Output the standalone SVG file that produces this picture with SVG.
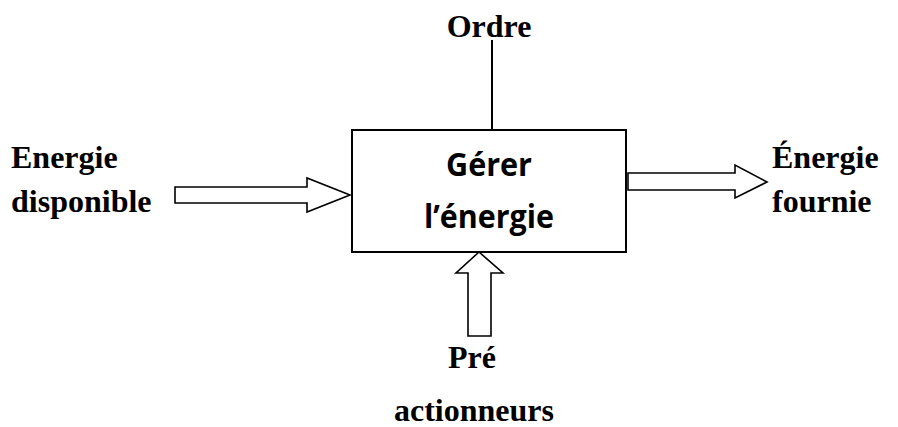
<svg xmlns="http://www.w3.org/2000/svg" width="898" height="427" viewBox="0 0 898 427">
  <style>
    .lbl { font-family: "Liberation Serif", "Times New Roman", serif; font-weight: bold; font-size: 32px; fill: #000; }
    .fn { font-family: "Open Sans", "Liberation Sans", sans-serif; font-weight: bold; font-size: 32px; fill: #000; }
    .box { fill: #fff; stroke: #000; stroke-width: 2; }
    .flow { fill: #fff; stroke: #000; stroke-width: 1.6; stroke-linejoin: miter; }
    .wire { fill: none; stroke: #000; stroke-width: 2; }
  </style>

  <rect width="898" height="427" fill="#fff"/>

  <!-- connectors -->
  <g id="connectors">
    <!-- control input from the top -->
    <line class="wire" x1="492" y1="40" x2="492" y2="130"/>
    <!-- energy in (left) -->
    <polygon class="flow" points="175,187 307,187 307,178 350,195 307,212 307,203 175,203"/>
    <!-- energy out (right) -->
    <polygon class="flow" points="628,173 735,173 735,165 767,182 735,198 735,190 628,190"/>
    <!-- pre-actuators from below -->
    <polygon class="flow" points="479,252 503,273 491,273 491,336 468,336 468,273 456,273"/>
  </g>

  <!-- function block -->
  <g id="node-gerer">
    <rect class="box" x="352" y="130" width="274" height="122"/>
    <text class="fn" x="489" y="176" text-anchor="middle" textLength="86" lengthAdjust="spacingAndGlyphs">Gérer</text>
    <text class="fn" x="489" y="228" text-anchor="middle" textLength="130" lengthAdjust="spacingAndGlyphs">l’énergie</text>
  </g>

  <g id="node-ordre">
    <text class="lbl" x="489" y="37" text-anchor="middle">Ordre</text>
  </g>

  <g id="node-energie-disponible">
    <text class="lbl" x="11" y="168">Energie</text>
    <text class="lbl" x="11" y="212">disponible</text>
  </g>

  <g id="node-energie-fournie">
    <text class="lbl" x="772" y="168">Énergie</text>
    <text class="lbl" x="772" y="212">fournie</text>
  </g>

  <g id="node-pre-actionneurs">
    <text class="lbl" x="472" y="368" text-anchor="middle">Pré</text>
    <text class="lbl" x="474" y="421" text-anchor="middle">actionneurs</text>
  </g>
</svg>
